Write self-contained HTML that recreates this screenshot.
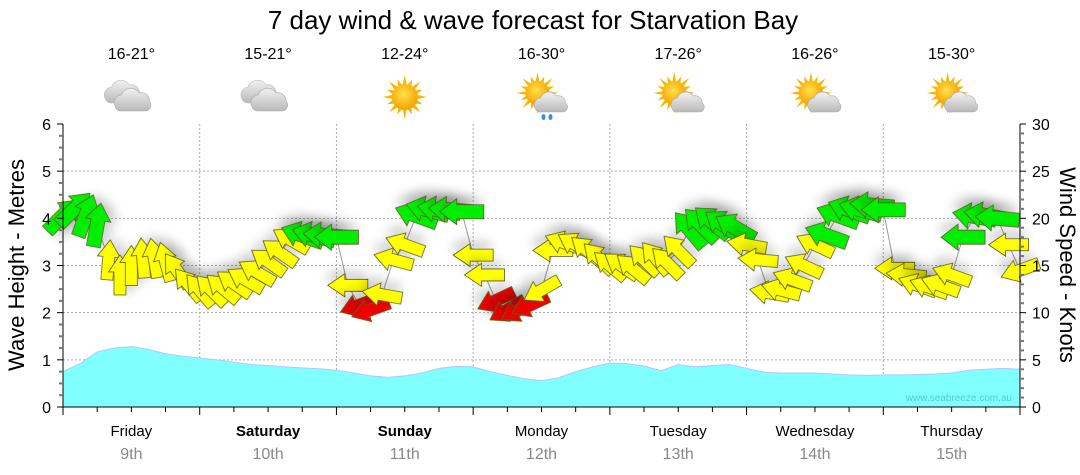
<!DOCTYPE html>
<html><head><meta charset="utf-8">
<style>
body{margin:0;background:#fff;width:1080px;height:475px;overflow:hidden}
svg{display:block;font-family:"Liberation Sans","DejaVu Sans",sans-serif}
</style></head>
<body>
<svg id="chart" width="1080" height="475" viewBox="0 0 1080 475">
<defs>
<filter id="sh" x="-50%" y="-50%" width="200%" height="200%"><feDropShadow dx="3" dy="8" stdDeviation="5" flood-color="#000" flood-opacity="0.16"/></filter>
<radialGradient id="sun" cx="45%" cy="40%" r="60%"><stop offset="0" stop-color="#ffe24a"/><stop offset="1" stop-color="#f5a000"/></radialGradient>
<linearGradient id="cl" x1="0" y1="0" x2="0" y2="1"><stop offset="0" stop-color="#f2f2f2"/><stop offset="1" stop-color="#b8b8b8"/></linearGradient>
</defs>
<text x="533" y="29" text-anchor="middle" font-size="26" fill="#000">7 day wind &amp; wave forecast for Starvation Bay</text>
<g id="grid"></g>
<g id="wave"></g>
<text x="1012" y="401" text-anchor="end" font-size="10" fill="#5cc">www.seabreeze.com.au</text>
<g id="wind"></g>
<g id="axes"></g>
<g id="days"></g>
<g id="icons"></g>
<text transform="translate(24,265) rotate(-90)" text-anchor="middle" font-size="22" fill="#000">Wave Height - Metres</text>
<text transform="translate(1060,265) rotate(90)" text-anchor="middle" font-size="22" fill="#000">Wind Speed - Knots</text>
</svg>
<script>
const dayNames=["Friday","Saturday","Sunday","Monday","Tuesday","Wednesday","Thursday"];
const dayDates=["9th","10th","11th","12th","13th","14th","15th"];
const temps=["16-21°","15-21°","12-24°","16-30°","17-26°","16-26°","15-30°"];
const weather=["cloud","cloud","sun","rain","partly","partly","partly"];
const waveTicks=[0,1,2,3,4,5,6];
const windTicks=[0,5,10,15,20,25,30];
// wave height (m) every 3 hours
const waveH=[0.75,0.92,1.17,1.25,1.28,1.22,1.13,1.08,1.04,1.0,0.95,0.9,0.88,0.85,0.83,0.81,0.78,0.72,0.66,0.63,0.66,0.72,0.82,0.86,0.85,0.75,0.67,0.6,0.56,0.62,0.75,0.85,0.93,0.92,0.87,0.77,0.9,0.85,0.88,0.9,0.82,0.74,0.72,0.72,0.72,0.7,0.68,0.67,0.68,0.68,0.69,0.7,0.72,0.78,0.8,0.82,0.8];
// wind speed (knots) every 2 hours
const windKn=[20.3,21,20.3,19.3,15.6,14,15,15.8,15.8,15.4,14.5,13,12.4,12.4,12.6,13.1,13.5,14.3,15.4,16.4,17.7,18.2,18.2,18.2,18,
12.9,10.8,10.3,11.9,15.6,17.2,20.3,20.9,20.9,20.9,20.7,16.1,
14,11.3,10.3,10.3,10.8,12.4,16.6,17.4,17.2,16.6,15.8,15,15,14.7,15.6,15.8,
15.3,16.6,18.8,19.3,19.6,19.3,19,17.2,15.6,
12.1,12.4,13.5,15,17.2,18.2,20.3,20.9,20.9,21.4,20.9,
14.7,14,12.9,12.7,12.9,14,18,20.2,20.3,20,17.2,14.5];
// arrow pointing direction, degrees (0=east/right, 90=up)
const windDir=[45,45,70,80,85,90,90,95,100,105,125,130,130,135,140,145,150,150,145,145,150,160,165,175,180,
180,200,200,170,165,160,160,165,170,175,180,180,
180,205,210,210,205,210,180,160,150,140,135,140,145,140,135,130,
135,135,130,135,140,145,150,170,175,
170,165,160,155,155,160,160,160,165,175,180,
180,175,160,160,160,160,180,170,170,175,180,200];
const windCat=["g","g","g","g","y","y","y","y","y","y","y","y","y","y","y","y","y","y","y","y","y","g","g","g","g",
"y","r","r","y","y","y","g","g","g","g","g","y",
"y","r","r","r","r","y","y","y","y","y","y","y","y","y","y","y",
"y","y","g","g","g","g","g","y","y",
"y","y","y","y","y","g","g","g","g","g","g",
"y","y","y","y","y","y","g","g","g","g","y","y"];
const catColor={g:"#00ee00",y:"#ffff00",r:"#ee0000"};

const NS="http://www.w3.org/2000/svg";
const X0=63,X1=1020,Y0=407,YT=124,DW=(X1-X0)/7;
const xHour=h=>X0+h/24*DW;
const yWave=m=>Y0-(Y0-YT)*m/6;
const yWind=k=>Y0-(Y0-YT)*k/30;
function mk(tag,at,parent){const e=document.createElementNS(NS,tag);for(const k in at)e.setAttribute(k,at[k]);parent.appendChild(e);return e;}
const grid=document.getElementById('grid'),axes=document.getElementById('axes');
for(const t of waveTicks){if(t===0||t===6)continue;
 const l=mk('line',{x1:X0,x2:X1,y1:yWave(t),y2:yWave(t),stroke:'#aaa','stroke-dasharray':'2,2'},grid);
 
 }
for(let d=1;d<7;d++){const x=X0+d*DW;
 const l=mk('line',{x1:x,x2:x,y1:YT,y2:Y0,stroke:'#aaa','stroke-dasharray':'2,2'},grid);
 
 }
let pts=[[X0,Y0]];
waveH.forEach((v,i)=>pts.push([xHour(i*3),yWave(v)]));
pts.push([xHour((waveH.length-1)*3),Y0]);
const wa=mk('polygon',{points:pts.map(p=>p.join(',')).join(' '),fill:'#80ffff',stroke:'#b0c8ff','stroke-width':1},document.getElementById('wave'));


mk('line',{x1:X0,x2:X0,y1:YT,y2:Y0,stroke:'#000'},axes);
mk('line',{x1:X1,x2:X1,y1:YT,y2:Y0,stroke:'#000'},axes);
mk('line',{x1:X0,x2:X1,y1:Y0,y2:Y0,stroke:'#000'},axes);
for(let m=0;m<=6.001;m+=0.25){const y=yWave(m);const major=Math.abs(m-Math.round(m))<0.01;
 mk('line',{x1:X0-(major?6:4),x2:X0,y1:y,y2:y,stroke:major?'#000':'#777','stroke-width':major?1:2},axes);}
for(const t of waveTicks){const tx=mk('text',{x:X0-12,y:yWave(t)+6,'text-anchor':'end','font-size':16},axes);tx.textContent=t;
 
 }
for(let k=0;k<=30;k++){const y=yWind(k);const major=k%5===0;
 mk('line',{x1:X1,x2:X1+(major?6:4),y1:y,y2:y,stroke:major?'#000':'#777','stroke-width':major?1:2},axes);}
for(const t of windTicks){const tx=mk('text',{x:X1+12,y:yWind(t)+6,'font-size':16},axes);tx.textContent=t;
 
 }
for(let q=0;q<=28;q++){const x=X0+q*DW/4;mk('line',{x1:x,x2:x,y1:Y0,y2:Y0+(q%4===0?8:5),stroke:'#000'},axes);}
const wl=mk('polyline',{points:windKn.map((k,i)=>xHour(i*2)+','+yWind(k)).join(' '),fill:'none',stroke:'#999','stroke-width':1},document.getElementById('wind'));


const wg=document.getElementById('wind');
windKn.forEach((k,i)=>{
 const x=xHour(i*2),y=yWind(k),big=windCat[i]==='g';
 const L=big?44:40,hw=big?13:11.5,sw=big?7:6,hl=17;
 const d=`M${L/2},0 L${L/2-hl},${-hw} L${L/2-hl},${-sw} L${-L/2},${-sw} L${-L/2},${sw} L${L/2-hl},${sw} L${L/2-hl},${hw} Z`;
 const p=mk('path',{d:d,fill:catColor[windCat[i]],stroke:'#5a5a20','stroke-width':0.8,filter:'url(#sh)',transform:`translate(${x},${y}) rotate(${-windDir[i]})`},wg);
 
 
});
const dg=document.getElementById('days'),ig=document.getElementById('icons');
dayNames.forEach((n,d)=>{const cx=X0+(d+0.5)*DW;
 const t1=mk('text',{x:cx,y:436,'text-anchor':'middle','font-size':15,'font-weight':(d===1||d===2)?'bold':'normal'},dg);t1.textContent=n;
 
 
 const t2=mk('text',{x:cx,y:459,'text-anchor':'middle','font-size':16,fill:'#888'},dg);t2.textContent=dayDates[d];
 
 
 const t3=mk('text',{x:cx,y:59,'text-anchor':'middle','font-size':16},ig);t3.textContent=temps[d];
 
 
 const g=mk('g',{transform:`translate(${cx},95)`},ig);
 
 
 const w=weather[d];
 if(w!=='cloud'){const sx=w==='sun'?0:-4,sy=w==='sun'?2:-2,r=w==='sun'?13:12;
  for(let a=0;a<360;a+=22.5){const R=r+(a%45===0?9:6);const rad=a*Math.PI/180;
   mk('polygon',{points:`${sx+Math.cos(rad)*R},${sy+Math.sin(rad)*R} ${sx+Math.cos(rad+0.15)*r},${sy+Math.sin(rad+0.15)*r} ${sx+Math.cos(rad-0.15)*r},${sy+Math.sin(rad-0.15)*r}`,fill:'#f6b800'},g);}
  mk('circle',{cx:sx,cy:sy,r:r,fill:'url(#sun)'},g);}
 if(w==='cloud'){
  mk('path',{d:'M-26,4 a8,8 0 0 1 6,-12 a10,10 0 0 1 18,-2 a8,8 0 0 1 10,8 a6,6 0 0 1 -4,10 h-24 a6,6 0 0 1 -6,-4Z',fill:'url(#cl)',stroke:'#bbb','stroke-width':0.6},g);
  mk('path',{d:'M-16,12 a8,8 0 0 1 6,-12 a10,10 0 0 1 18,-2 a8,8 0 0 1 10,8 a6,6 0 0 1 -4,10 h-24 a6,6 0 0 1 -6,-4Z',fill:'url(#cl)',stroke:'#aaa','stroke-width':0.6},g);}
 if(w==='rain'||w==='partly'){
  mk('path',{d:'M-6,14 a7,7 0 0 1 5,-11 a9,9 0 0 1 16,-2 a7,7 0 0 1 9,7 a5,5 0 0 1 -3,9 h-21 a5,5 0 0 1 -6,-3Z',fill:'url(#cl)',stroke:'#aaa','stroke-width':0.6},g);}
 if(w==='rain'){mk('ellipse',{cx:2,cy:22,rx:2,ry:3,fill:'#3a8fd8'},g);mk('ellipse',{cx:9,cy:22,rx:2,ry:3,fill:'#3a8fd8'},g);}
});
</script>
</body></html>
